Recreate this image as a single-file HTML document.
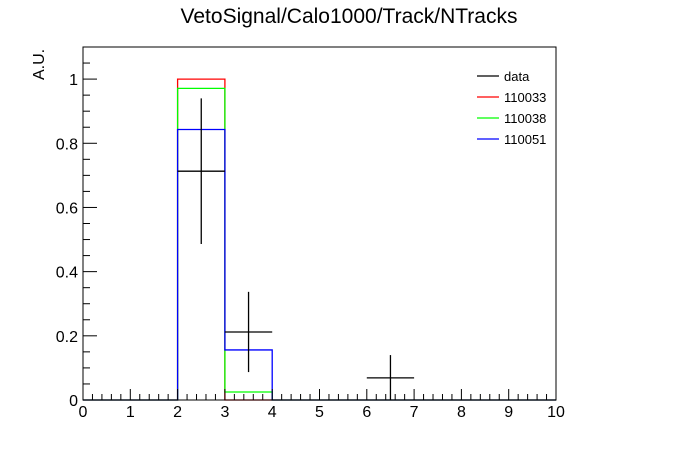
<!DOCTYPE html>
<html><head><meta charset="utf-8"><style>body{margin:0;background:#fff}svg{display:block;font-family:"Liberation Sans",Arial,sans-serif}</style></head>
<body>
<svg id="c" width="696" height="472">
<rect width="696" height="472" fill="#fff"/>
<text x="349" y="23" font-size="21" text-anchor="middle">VetoSignal/Calo1000/Track/NTracks</text>
<text transform="translate(44,80) rotate(-90)" font-size="16" text-anchor="start">A.U.</text>
<g id="plot"></g>
<g id="legend"></g>
</svg>
<script>
const binEdges=[0,1,2,3,4,5,6,7,8,9,10];
const red=[0,0,1.0,0,0,0,0,0,0,0];
const green=[0,0,0.971,0.025,0,0,0,0,0,0];
const blue=[0,0,0.843,0.156,0,0,0,0,0,0];
const dataX=[2.5,3.5,6.5];
const dataY=[0.713,0.212,0.069];
const dataErr=[0.227,0.125,0.071];
const xTicks=[0,1,2,3,4,5,6,7,8,9,10];
const yTicks=[0,0.2,0.4,0.6,0.8,1];
const yTickLabels=["0","0.2","0.4","0.6","0.8","1"];
const legendNames=["data","110033","110038","110051"];
const legendColors=["#000","#f00","#0f0","#00f"];

const X0=83,X1=556,Y0=400,Y1=47,ymax=1.1;
const sx=v=>X0+(v/10)*(X1-X0);
const sy=v=>Y0-(v/ymax)*(Y0-Y1);
const NS="http://www.w3.org/2000/svg";
const g=document.getElementById('plot');
function mk(t,a,p){const e=document.createElementNS(NS,t);for(const k in a)e.setAttribute(k,a[k]);(p||g).appendChild(e);return e;}

function hist(vals,color,name){
  let d="M"+sx(binEdges[0])+","+sy(0);
  for(let i=0;i<vals.length;i++){d+=" L"+sx(binEdges[i])+","+sy(vals[i])+" L"+sx(binEdges[i+1])+","+sy(vals[i]);}
  d+=" L"+sx(binEdges[vals.length])+","+sy(0);
  const p=mk('path',{d:d,fill:'none',stroke:color,'stroke-width':1.3});
  
  
}
hist(red,'#f00','hist-110033');
hist(green,'#0f0','hist-110038');
hist(blue,'#00f','hist-110051');

for(let i=0;i<dataX.length;i++){
  const gg=mk('g',{stroke:'#000','stroke-width':1.3});
  
  
  mk('line',{x1:sx(dataX[i]-0.5),x2:sx(dataX[i]+0.5),y1:sy(dataY[i]),y2:sy(dataY[i])},gg);
  mk('line',{x1:sx(dataX[i]),x2:sx(dataX[i]),y1:sy(Math.max(0,dataY[i]-dataErr[i])),y2:sy(dataY[i]+dataErr[i])},gg);
}

const fr=mk('rect',{x:X0,y:Y1,width:X1-X0,height:Y0-Y1,fill:'none',stroke:'#000','stroke-width':1});



// x ticks
for(let v=0;v<=10.001;v+=0.2){
  const major=Math.abs(v-Math.round(v))<0.01;
  mk('line',{x1:sx(v),x2:sx(v),y1:Y0,y2:Y0-(major?11:6),stroke:'#000','stroke-width':1});
}
xTicks.forEach(v=>{const t=mk('text',{x:sx(v),y:Y0+17,'font-size':16,'text-anchor':'middle'});t.textContent=String(v);
  
  });
// y ticks
for(let v=0;v<=1.1001;v+=0.05){
  const major=Math.abs(v/0.2-Math.round(v/0.2))<0.01;
  mk('line',{x1:X0,x2:X0+(major?14:7),y1:sy(v),y2:sy(v),stroke:'#000','stroke-width':1});
}
yTicks.forEach((v,i)=>{const t=mk('text',{x:X0-5,y:sy(v)+6,'font-size':16,'text-anchor':'end'});t.textContent=yTickLabels[i];
  
  });

const lg=document.getElementById('legend');
legendNames.forEach((n,i)=>{
  const y=76+i*21;
  const e=document.createElementNS(NS,'g');
  
  
  lg.appendChild(e);
  mk('line',{x1:477,x2:499,y1:y,y2:y,stroke:legendColors[i],'stroke-width':1.3},e);
  const t=mk('text',{x:504,y:y+5,'font-size':13},e);t.textContent=n;
});
</script>
</body></html>
